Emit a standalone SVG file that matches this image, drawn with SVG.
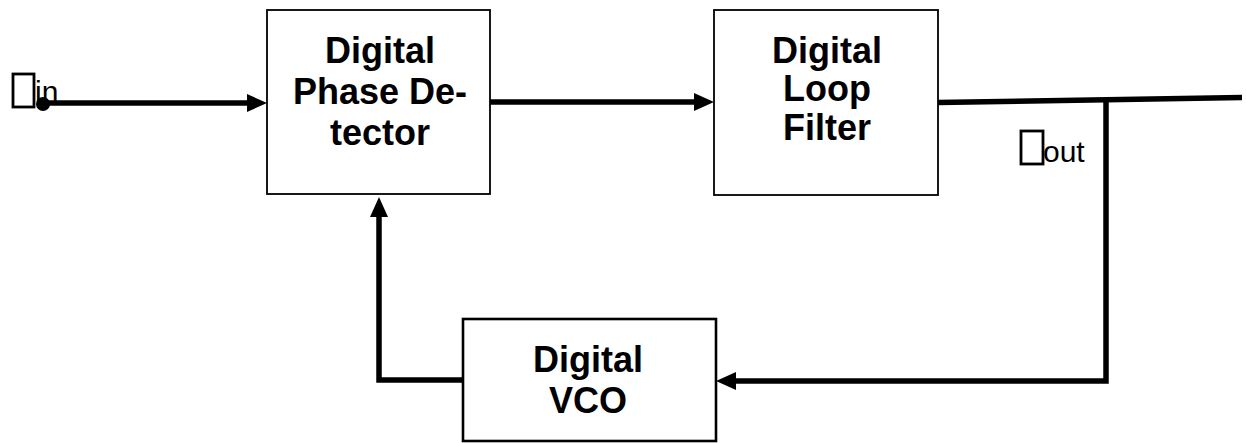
<svg xmlns="http://www.w3.org/2000/svg" width="1246" height="443" viewBox="0 0 1246 443">
<style>
  .box { fill: #ffffff; stroke: #000000; stroke-width: 1.8; }
  .lbl { font-family: "Liberation Sans", Arial, sans-serif; font-weight: bold; font-size: 36px; fill: #000; text-anchor: middle; }
  .sig { font-family: "Liberation Sans", Arial, sans-serif; font-size: 30px; fill: #000; }
  .wire { fill: none; stroke: #000; stroke-width: 5.5; stroke-linejoin: miter; }
  .tofu { fill: none; stroke: #000; stroke-width: 2.8; }
</style>
<defs>
  <marker id="arr" markerUnits="userSpaceOnUse" markerWidth="20" markerHeight="20" viewBox="0 0 20 20" refX="0" refY="10" orient="auto">
    <path d="M0,1 L20,10 L0,19 Z" fill="#000"/>
  </marker>
</defs>
<rect width="1246" height="443" fill="#ffffff"/>
<g id="connectors">
  <line class="wire" x1="43" y1="103" x2="247" y2="103" marker-end="url(#arr)"/>
  <line class="wire" x1="490" y1="102" x2="694" y2="102" marker-end="url(#arr)"/>
  <line class="wire" x1="938" y1="102.5" x2="1242" y2="97.5"/>
  <polyline class="wire" points="1106,101 1106,381 736,381" marker-end="url(#arr)"/>
  <polyline class="wire" points="471,380 379,380 379,217" marker-end="url(#arr)"/>
  <circle cx="43" cy="104" r="7" fill="#000"/>
</g>
<g id="label-in">
  <rect class="tofu" x="13" y="74" width="21" height="33"/>
  <text class="sig" x="35" y="102" font-size="27">in</text>
</g>
<g id="label-out">
  <rect class="tofu" x="1021" y="131" width="22" height="33"/>
  <text class="sig" x="1043" y="162" font-size="34">out</text>
</g>
<g id="phase-detector">
  <rect class="box" x="267" y="10" width="223" height="184"/>
  <text class="lbl" x="380" y="63">Digital</text>
  <text class="lbl" x="380" y="104">Phase De-</text>
  <text class="lbl" x="380" y="145">tector</text>
</g>
<g id="loop-filter">
  <rect class="box" x="714" y="10" width="224" height="185"/>
  <text class="lbl" x="827" y="63">Digital</text>
  <text class="lbl" x="827" y="101">Loop</text>
  <text class="lbl" x="827" y="140">Filter</text>
</g>
<g id="vco">
  <rect class="box" x="463" y="319" width="253" height="122" style="stroke-width:2.6"/>
  <text class="lbl" x="588" y="372">Digital</text>
  <text class="lbl" x="588" y="413">VCO</text>
</g>
</svg>
